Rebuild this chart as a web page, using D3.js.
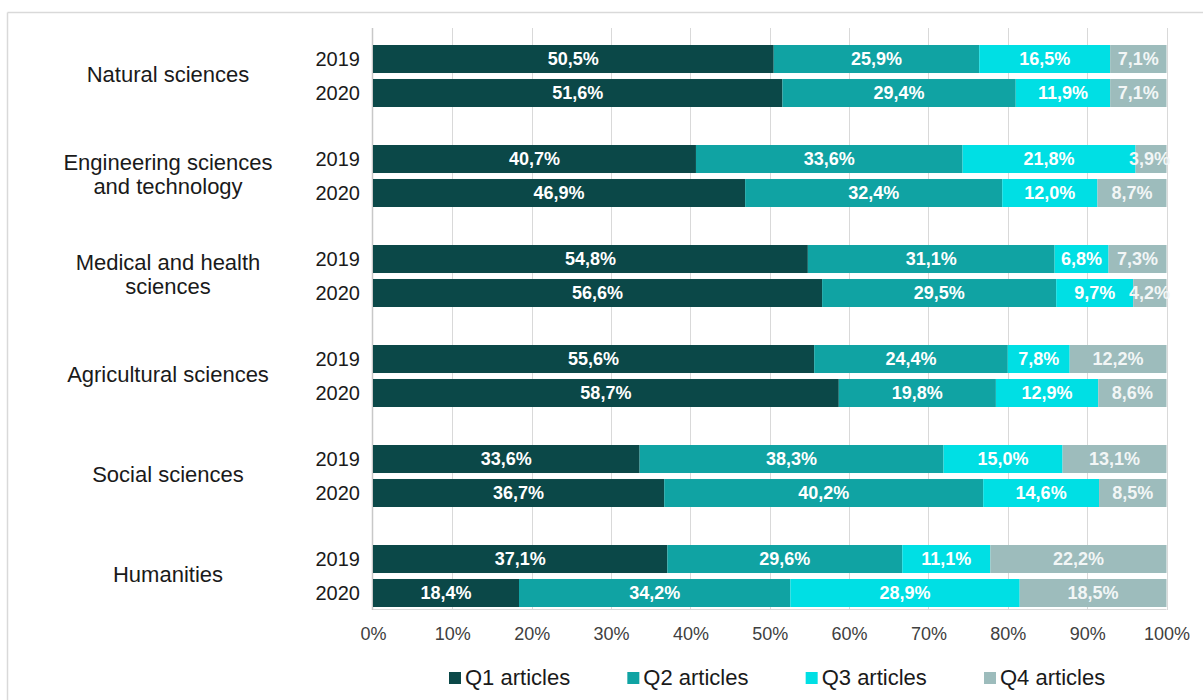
<!DOCTYPE html>
<html>
<head>
<meta charset="utf-8">
<script src="https://cdn.jsdelivr.net/npm/d3@7"></script>
<style>
  html, body { margin: 0; padding: 0; background: #fff; }
  svg { display: block; font-family: "Liberation Sans", Arial, sans-serif; }
</style>
</head>
<body>
<svg id="chart" width="1203" height="700"></svg>
<script>
// Share of articles by journal quartile, per field of science and year
const fields = [
  ["Natural sciences"],
  ["Engineering sciences", "and technology"],
  ["Medical and health", "sciences"],
  ["Agricultural sciences"],
  ["Social sciences"],
  ["Humanities"]
];
const years = ["2019", "2020"];
const quartiles = ["Q1 articles", "Q2 articles", "Q3 articles", "Q4 articles"];

// values per field, per year: [Q1, Q2, Q3, Q4] in percent
const q1 = [[50.5, 51.6], [40.7, 46.9], [54.8, 56.6], [55.6, 58.7], [33.6, 36.7], [37.1, 18.4]];
const q2 = [[25.9, 29.4], [33.6, 32.4], [31.1, 29.5], [24.4, 19.8], [38.3, 40.2], [29.6, 34.2]];
const q3 = [[16.5, 11.9], [21.8, 12.0], [6.8, 9.7], [7.8, 12.9], [15.0, 14.6], [11.1, 28.9]];
const q4 = [[7.1, 7.1], [3.9, 8.7], [7.3, 4.2], [12.2, 8.6], [13.1, 8.5], [22.2, 18.5]];
const xTicks = [0, 10, 20, 30, 40, 50, 60, 70, 80, 90, 100];

const colors = ["#0b4848", "#10a3a3", "#00dfe4", "#9dbcbc"];

const svg = d3.select("#chart");

// frame
svg.append("line").attr("x1", 7.5).attr("x2", 1203).attr("y1", 12.5).attr("y2", 12.5)
  .attr("stroke", "#d9d9d9").attr("stroke-width", 1.5);
svg.append("line").attr("x1", 7.5).attr("x2", 7.5).attr("y1", 12.5).attr("y2", 700)
  .attr("stroke", "#d9d9d9").attr("stroke-width", 1.5);

const plot = { left: 373, right: 1166.5, top: 28, bottom: 610 };

const x = d3.scaleLinear().domain([0, 100]).range([plot.left, plot.right]);
const yField = d3.scaleBand().domain(d3.range(fields.length)).range([26, 626]).padding(0);
const yYear = d3.scaleBand().domain(years).range([19, 81]).paddingInner(0.176).paddingOuter(0);
const color = d3.scaleOrdinal().domain(quartiles).range(colors);

// vertical gridlines
svg.append("g").selectAll("line").data(xTicks.slice(1)).join("line")
  .attr("x1", d => Math.round(x(d)) + 0.5).attr("x2", d => Math.round(x(d)) + 0.5)
  .attr("y1", plot.top).attr("y2", plot.bottom)
  .attr("stroke", "#d9d9d9").attr("stroke-width", 1);

// baseline axes
svg.append("line").attr("x1", plot.left - 0.5).attr("x2", plot.left - 0.5)
  .attr("y1", plot.top).attr("y2", plot.bottom).attr("stroke", "#c8c8c8").attr("stroke-width", 1.5);
svg.append("line").attr("x1", plot.left).attr("x2", plot.right)
  .attr("y1", plot.bottom - 0.5).attr("y2", plot.bottom - 0.5).attr("stroke", "#d9d9d9");

// x axis tick labels
const xAxis = d3.axisBottom(x).tickValues(xTicks).tickFormat(d => d + "%").tickSize(0).tickPadding(0);
const gx = svg.append("g").attr("transform", `translate(0, 640)`).call(xAxis);
gx.select(".domain").remove();
gx.selectAll("text").attr("font-size", 18).attr("fill", "#404040")
  .attr("font-family", "Liberation Sans, Arial, sans-serif").attr("dy", "0").attr("y", 0);

// rows
const rows = [];
fields.forEach((f, i) => {
  years.forEach((yr, j) => {
    const vals = [q1[i][j], q2[i][j], q3[i][j], q4[i][j]];
    let acc = 0;
    const segs = vals.map((v, k) => {
      const s = { key: quartiles[k], v, x0: acc, x1: acc + v };
      acc += v;
      return s;
    });
    rows.push({ field: i, year: yr, segs });
  });
});

const rowG = svg.append("g").selectAll("g").data(rows).join("g")
  .attr("transform", d => `translate(0, ${yField(d.field) + yYear(d.year)})`);

rowG.selectAll("rect").data(d => d.segs).join("rect")
  .attr("x", d => x(d.x0))
  .attr("width", d => x(d.x1) - x(d.x0))
  .attr("y", 0)
  .attr("height", yYear.bandwidth())
  .attr("fill", d => color(d.key));

rowG.selectAll("text.val").data(d => d.segs).join("text")
  .attr("class", "val")
  .attr("x", d => Math.min(x((d.x0 + d.x1) / 2), x(100) - 17))
  .attr("y", yYear.bandwidth() / 2)
  .attr("dy", "0.35em")
  .attr("text-anchor", "middle")
  .attr("font-size", 18).attr("font-weight", "bold")
  .attr("fill", d => d.key === "Q4 articles" ? "#f2f6f6" : "#ffffff")
  .text(d => d.v.toFixed(1).replace(".", ",") + "%");

// year labels
rowG.append("text")
  .attr("x", 360).attr("y", yYear.bandwidth() / 2).attr("dy", "0.35em")
  .attr("text-anchor", "end").attr("font-size", 20).attr("fill", "#1a1a1a")
  .text(d => d.year);

// field labels
const fieldG = svg.append("g").selectAll("text").data(fields).join("text")
  .attr("x", 168)
  .attr("y", (d, i) => yField(i) + yField.bandwidth() / 2 - 2 - (d.length - 1) * 12)
  .attr("text-anchor", "middle").attr("font-size", 22).attr("fill", "#1a1a1a");
fieldG.selectAll("tspan").data(d => d).join("tspan")
  .attr("x", 168).attr("dy", (d, k) => k === 0 ? "0.35em" : 24)
  .text(d => d);

// legend
const legendX = d3.scalePoint().domain(quartiles).range([449, 984]);
const lg = svg.append("g").selectAll("g").data(quartiles).join("g")
  .attr("transform", d => `translate(${legendX(d)}, 677)`);
lg.append("rect").attr("x", 0).attr("y", -5).attr("width", 12).attr("height", 12)
  .attr("fill", d => color(d));
lg.append("text").attr("x", 16).attr("y", 0).attr("dy", "0.35em")
  .attr("font-size", 22).attr("fill", "#1a1a1a").text(d => d);
</script>
</body>
</html>
